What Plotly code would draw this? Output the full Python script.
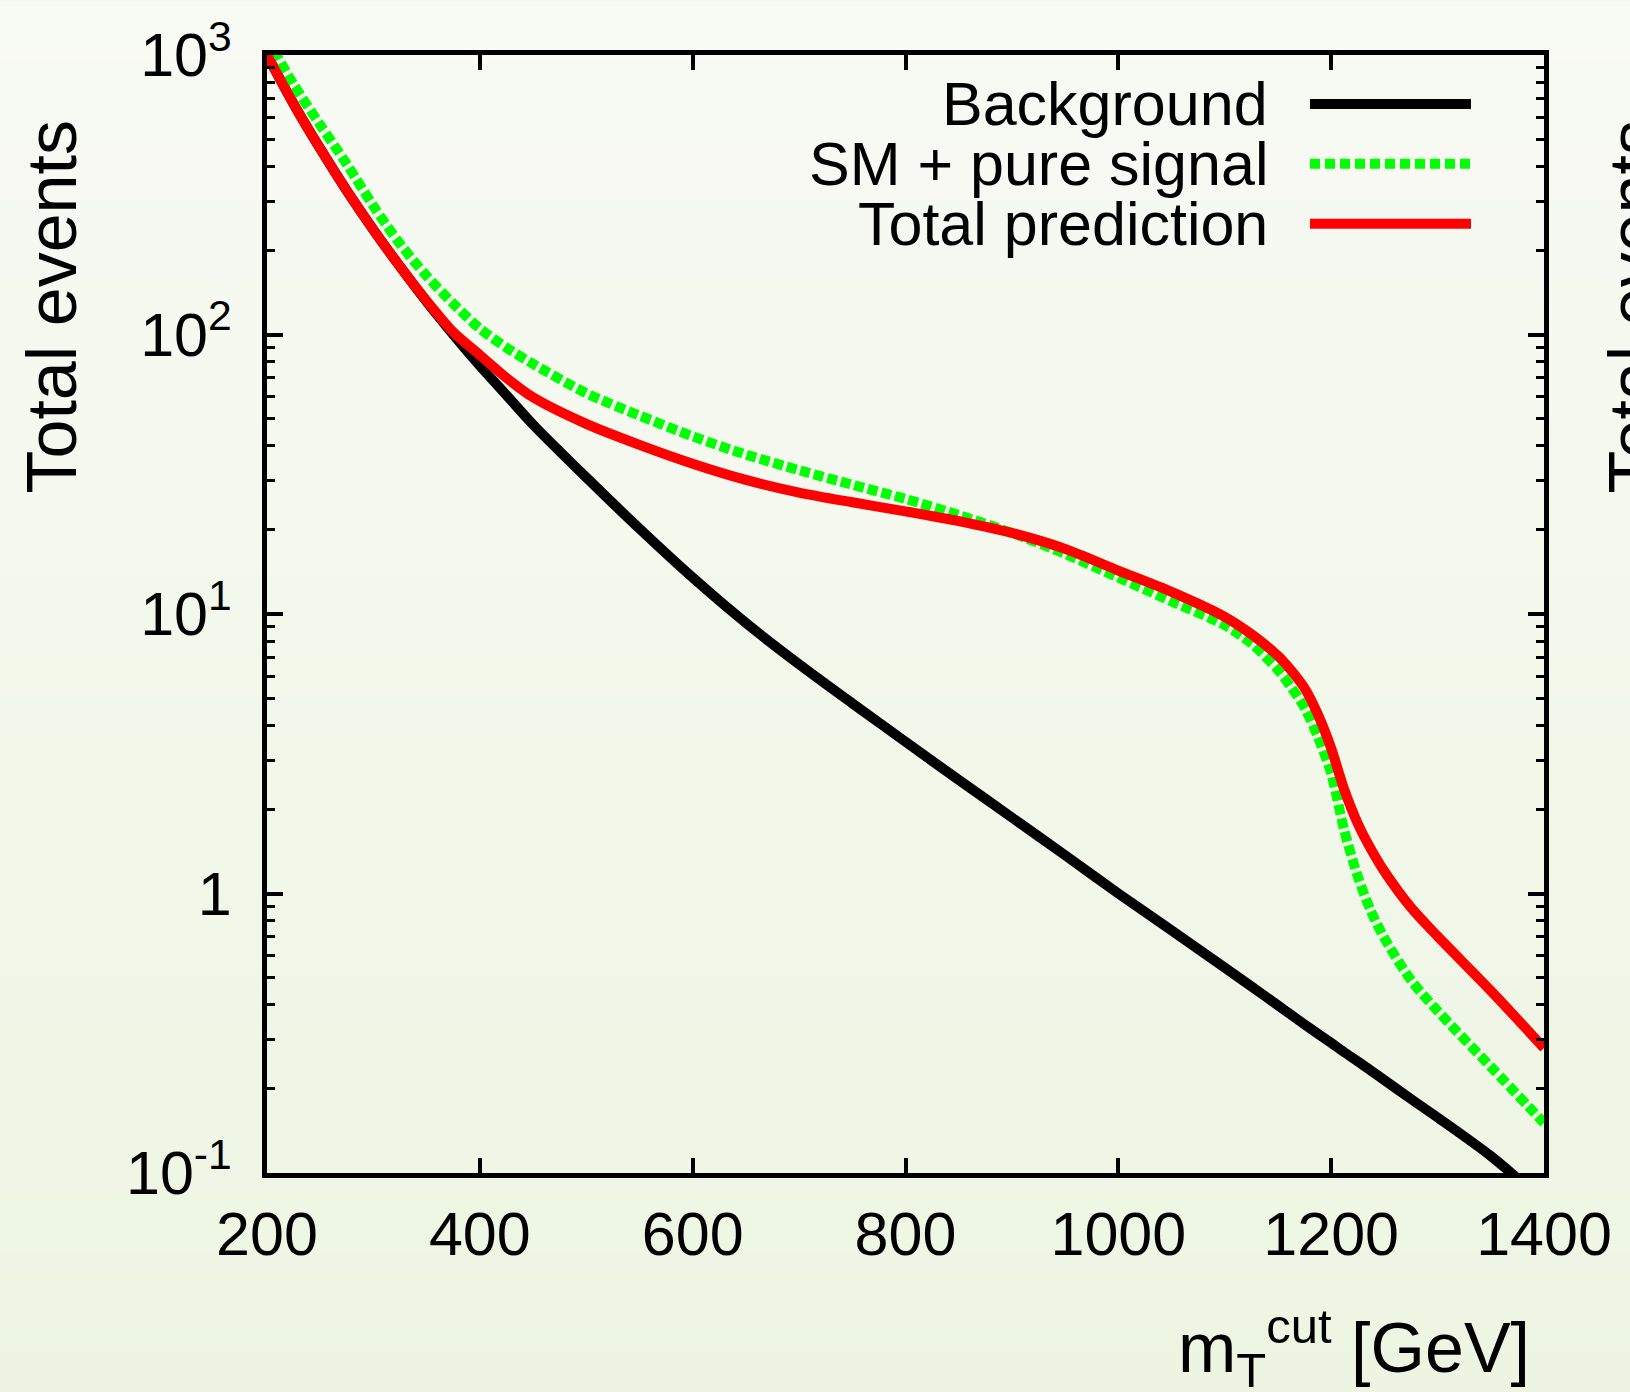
import plotly.graph_objects as go

# ---------------- data ----------------
mt_cut = [200, 225, 250, 275, 300, 325, 350, 375, 400, 425, 450, 500, 550, 600, 650, 700,
          750, 800, 850, 900, 950, 1000, 1050, 1100, 1125, 1150, 1162, 1175, 1187, 1200,
          1212, 1225, 1237, 1250, 1275, 1300, 1350, 1400]

background = [1000, 668, 462, 327, 237, 175, 131, 100, 77.3, 60.7, 47.6, 30.8, 20.2, 13.5,
              9.29, 6.61, 4.79, 3.49, 2.55, 1.87, 1.37, 1.0, 0.738, 0.543, 0.465, 0.398,
              0.369, 0.340, 0.316, 0.292, 0.271, 0.251, 0.233, 0.215, 0.184, 0.158, 0.115,
              0.079]

sm_pure_signal = [1148, 785, 562, 407, 288, 211, 162, 129, 105, 89.7, 78.5, 61.7, 51.3, 43.2,
                  37.2, 32.7, 29.0, 25.8, 22.6, 19.5, 16.4, 13.5, 11.1, 9.12, 7.85, 6.31,
                  5.50, 4.62, 3.67, 2.69, 1.70, 1.15, 0.871, 0.692, 0.490, 0.380, 0.240,
                  0.151]

total_prediction = [1000, 668, 462, 327, 237, 175, 132, 102, 84.5, 70.0, 59.6, 47.9, 40.3,
                    34.5, 30.2, 27.2, 25.1, 23.3, 21.5, 19.5, 17.1, 14.3, 12.0, 9.77, 8.47,
                    7.08, 6.31, 5.43, 4.42, 3.31, 2.37, 1.78, 1.45, 1.20, 0.891, 0.703, 0.449,
                    0.280]

series_names = ["Background", "SM + pure signal", "Total prediction"]
series_colors = ["#000000", "#00ff00", "#ff0000"]

y_tickvals = [0.1, 1, 10, 100, 1000]
y_ticktext = ["10<sup>-1</sup>", "1", "10<sup>1</sup>", "10<sup>2</sup>", "10<sup>3</sup>"]
x_tickvals = [200, 400, 600, 800, 1000, 1200, 1400]
x_ticktext = ["200", "400", "600", "800", "1000", "1200", "1400"]

# ---------------- layout geometry ----------------
W, H = 1630, 1392
L, R, T, B = 267, 1544, 53, 1173   # plot area in pixels
FONT = "Liberation Sans, Arial, Helvetica, sans-serif"


def px_x(p):
    return (p - L) / (R - L)


def px_y(p):
    return (B - p) / (B - T)


fig = go.Figure()

series = [background, sm_pure_signal, total_prediction]
dashes = ["solid", "10px,4px", "solid"]
for name, ys, col, dash in zip(series_names, series, series_colors, dashes):
    fig.add_trace(go.Scatter(
        x=mt_cut, y=ys, mode="lines", name=name,
        line=dict(color=col, width=10, dash=dash, shape="spline", smoothing=0.8),
        showlegend=False,
    ))

shapes = []
# vertical gradient background
N = 70
top_c = (248, 250, 244)
bot_c = (237, 245, 226)
for i in range(N):
    f = (i + 0.5) / N
    c = tuple(round(top_c[k] + (bot_c[k] - top_c[k]) * f) for k in range(3))
    y0 = i * H / N
    y1 = (i + 1) * H / N + 1
    shapes.append(dict(type="rect", xref="paper", yref="paper",
                       x0=px_x(0), x1=px_x(W), y0=px_y(y1), y1=px_y(y0),
                       fillcolor="rgb(%d,%d,%d)" % c, line=dict(width=0),
                       layer="below"))

# manual legend (text left, sample right)
legend_y = [102, 162, 222]
annotations = []
for name, col, dash, ly in zip(series_names, series_colors, dashes, legend_y):
    shapes.append(dict(type="line", xref="paper", yref="paper",
                       x0=px_x(1310), x1=px_x(1471), y0=px_y(ly), y1=px_y(ly),
                       line=dict(color=col, width=10,
                                 dash=("solid" if dash == "solid" else "10px,5px"))))
    annotations.append(dict(xref="paper", yref="paper", x=px_x(1270), y=px_y(ly),
                            xanchor="right", yanchor="middle", showarrow=False,
                            text=name, font=dict(family=FONT, size=61, color="black")))

# axis titles
annotations.append(dict(xref="paper", yref="paper", x=px_x(1532), y=px_y(1348),
                        xanchor="right", yanchor="middle", showarrow=False,
                        text="m<sub>T</sub><sup>cut</sup> [GeV]",
                        font=dict(family=FONT, size=70, color="black")))
annotations.append(dict(xref="paper", yref="paper", x=px_x(52), y=px_y(305),
                        xanchor="center", yanchor="middle", showarrow=False,
                        textangle=-90, text="Total events",
                        font=dict(family=FONT, size=70, color="black")))
# neighbouring panel's title, clipped by the right edge
annotations.append(dict(xref="paper", yref="paper", x=px_x(1634), y=px_y(305),
                        xanchor="center", yanchor="middle", showarrow=False,
                        textangle=-90, text="Total events",
                        font=dict(family=FONT, size=70, color="black")))

minor_vals = [k * 10 ** e for e in range(-1, 3) for k in range(2, 10)]

fig.update_layout(
    width=W, height=H,
    margin=dict(l=L, r=W - R, t=T, b=H - B, pad=0),
    paper_bgcolor="rgb(243,248,236)",
    plot_bgcolor="rgba(0,0,0,0)",
    font=dict(family=FONT, size=61, color="black"),
    shapes=shapes,
    annotations=annotations,
    xaxis=dict(
        range=[200, 1400], tickmode="array", tickvals=x_tickvals, ticktext=x_ticktext,
        ticks="inside", ticklen=15, tickwidth=4, tickcolor="black",
        showline=True, linewidth=5, linecolor="black", mirror="ticks",
        showgrid=False, zeroline=False, ticklabelstandoff=4,
        tickfont=dict(family=FONT, size=61, color="black"),
    ),
    yaxis=dict(
        type="log", range=[-1, 3], tickmode="array", tickvals=y_tickvals, ticktext=y_ticktext,
        ticks="inside", ticklen=16, tickwidth=4, tickcolor="black",
        showline=True, linewidth=5, linecolor="black", mirror="ticks",
        showgrid=False, zeroline=False, ticklabelstandoff=18,
        tickfont=dict(family=FONT, size=61, color="black"),
        minor=dict(tickmode="array", tickvals=minor_vals, ticks="inside",
                   ticklen=8, tickwidth=3, tickcolor="black", showgrid=False),
    ),
)

fig.write_html("out.html")
